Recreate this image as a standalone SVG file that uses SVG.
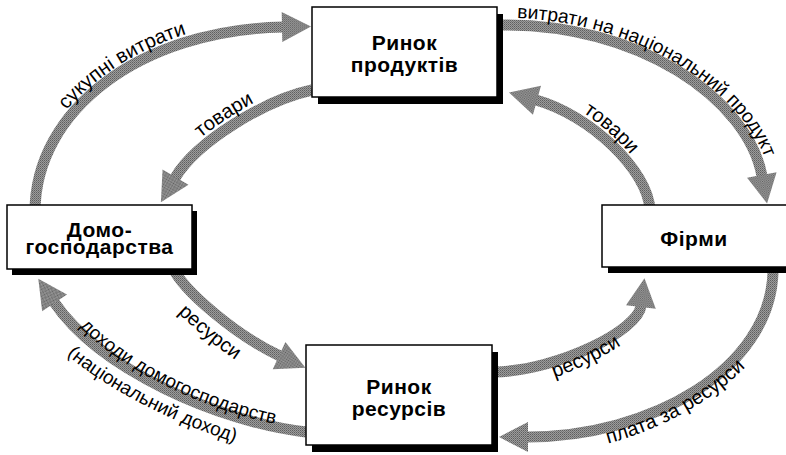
<svg xmlns="http://www.w3.org/2000/svg" width="786" height="455" viewBox="0 0 786 455">
<defs>
<style>
.band{fill:none;stroke:url(#stip);stroke-width:11;marker-end:url(#head)}
.lbl{font-family:"Liberation Sans",Arial,sans-serif;font-size:20px;fill:#000}
.sm{font-size:19px}
.box{fill:#fff;stroke:#000;stroke-width:1.5}
.shadow{fill:#000}
.ntxt{font-family:"Liberation Sans",Arial,sans-serif;font-weight:bold;font-size:21px;text-anchor:middle;fill:#000;letter-spacing:0.5px}
</style>
<pattern id="stip" width="2" height="2" patternUnits="userSpaceOnUse">
<rect width="2" height="2" fill="#9c9c9c"/>
<rect width="1" height="1" fill="#5e5e5e"/>
<rect x="1" y="1" width="1" height="1" fill="#767676"/>
</pattern>
<marker id="head" markerUnits="userSpaceOnUse" markerWidth="30" markerHeight="32" refX="1" refY="16" orient="auto" overflow="visible">
<path d="M0,1 L29,16 L0,31 Z" fill="url(#stip)"/>
</marker>
<path id="tA" d="M26,212 C26,110 140,21 283,18"/>
<path id="tB" d="M167,174 C188,138 263,91 310,81"/>
<path id="tC" d="M497,18 C640,15 756,99 769,174"/>
<path id="tD" d="M538,91 C592,106 657,170 659,210"/>
<path id="tE" d="M150,279 C160,301 223,358 268,379"/>
<path id="tF1" d="M57,300 C103,368 220,419 306,429"/>
<path id="tF2" d="M33,318 C79,386 216,447 302,457"/>
<path id="tG" d="M496,390 C561,388 656,332 659,308"/>
<path id="tH" d="M527,455 C650,455 788,370 791,275"/>
</defs>
<g id="connectors">
<g id="c-spending">
<path class="band" d="M35,212 C35,110 140,30 283,27"/>
<text class="lbl"><textPath href="#tA" startOffset="112">сукупні витрати</textPath></text>
</g>
<g id="c-goods-left">
<path class="band" d="M312,90 C265,100 196,142 175,178"/>
<text class="lbl"><textPath href="#tB" startOffset="50">товари</textPath></text>
</g>
<g id="c-national-product">
<path class="band" d="M497,25 C640,22 748,100 762,176"/>
<text class="lbl" style="font-size:19.2px"><textPath href="#tC" startOffset="20">витрати на національний продукт</textPath></text>
</g>
<g id="c-goods-right">
<path class="band" d="M650,210 C648,170 590,115 536,100"/>
<text class="lbl"><textPath href="#tD" startOffset="50">товари</textPath></text>
</g>
<g id="c-resources-left">
<path class="band" d="M173,268 C183,290 235,335 280,356"/>
<text class="lbl"><textPath href="#tE" startOffset="44">ресурси</textPath></text>
</g>
<g id="c-income">
<path class="band" d="M306,432 C220,422 100,370 54,302"/>
<text class="lbl sm"><textPath href="#tF1" startOffset="35">доходи домогосподарств</textPath></text>
<text class="lbl sm"><textPath href="#tF2" startOffset="50">(національний доход)</textPath></text>
</g>
<g id="c-resources-right">
<path class="band" d="M495,372 C560,370 638,330 641,306"/>
<text class="lbl"><textPath href="#tG" startOffset="60">ресурси</textPath></text>
</g>
<g id="c-payment">
<path class="band" d="M773,272 C770,370 650,437 527,437"/>
<text class="lbl"><textPath href="#tH" startOffset="82">плата за ресурси</textPath></text>
</g>
</g>
<g id="n-products">
<rect class="shadow" x="318" y="14" width="185" height="90"/>
<rect class="box" x="312" y="7" width="185" height="90"/>
<text class="ntxt" x="404.5" y="50">Ринок</text>
<text class="ntxt" x="404.5" y="72">продуктів</text>
</g>
<g id="n-households">
<rect class="shadow" x="12" y="211" width="185" height="64"/>
<rect class="box" x="7" y="205" width="185" height="64"/>
<text class="ntxt" x="99.5" y="237">Домо-</text>
<text class="ntxt" x="99.5" y="254">господарства</text>
</g>
<g id="n-firms">
<rect class="shadow" x="608" y="211" width="190" height="62"/>
<rect class="box" x="602" y="205" width="190" height="62"/>
<text class="ntxt" x="694" y="246">Фірми</text>
</g>
<g id="n-resources">
<rect class="shadow" x="312" y="352" width="186" height="100"/>
<rect class="box" x="306" y="345" width="186" height="100"/>
<text class="ntxt" x="399" y="394">Ринок</text>
<text class="ntxt" x="399" y="416">ресурсів</text>
</g>
</svg>
